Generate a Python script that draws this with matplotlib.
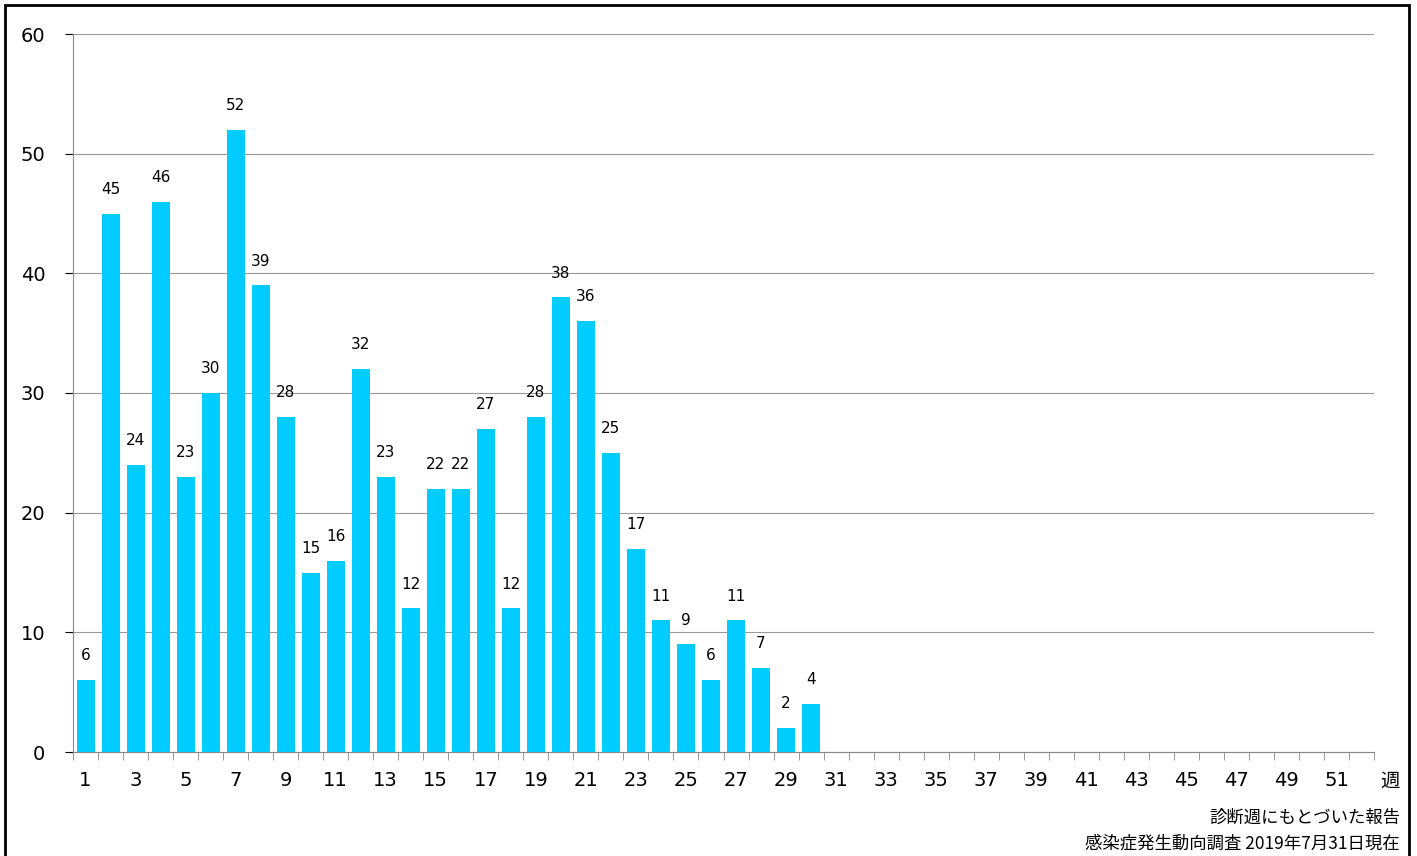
import matplotlib
matplotlib.use("Agg")
import matplotlib.pyplot as plt
from matplotlib.patches import Rectangle
import numpy as np

weeks = list(range(1, 53))
counts = [6,45,24,46,23,30,52,39,28,15,16,32,23,12,22,22,27,12,28,38,36,25,17,11,9,6,11,7,2,4]
yticks = [0,10,20,30,40,50,60]
note1 = "診断週にもとづいた報告"
note2 = "感染症発生動向調査 2019年7月31日現在"

plt.rcParams['font.family'] = ['DejaVu Sans', 'Noto Sans CJK JP']
fig = plt.figure(figsize=(14.17, 8.56), dpi=100)
ax = fig.add_axes([73/1417, 1-752/856, (1374-73)/1417, (752-34)/856])
x = np.arange(1, len(counts)+1)
ax.bar(x, counts, width=0.72, color='#00CCFF', zorder=3)
for xi, v in zip(x, counts):
    ax.text(xi, v + 1.4, str(v), ha='center', va='bottom', fontsize=11)
ax.set_xlim(0.5, 52.5)
ax.set_ylim(0, 60)
ax.set_yticks(yticks)
ax.tick_params(axis='y', length=6, labelsize=14, pad=14)
ax.yaxis.grid(True, color='#999999', linewidth=0.8, zorder=0)
ax.set_xticks(weeks[::2])
ax.set_xticklabels([str(w) for w in weeks[::2]], fontsize=14)
ax.set_xticks(np.arange(0.5, 53, 1), minor=True)
ax.tick_params(axis='x', which='major', length=0, pad=14)
ax.tick_params(axis='x', which='minor', length=6, color='#888888')
for s in ['top', 'right']:
    ax.spines[s].set_visible(False)
ax.spines['left'].set_color('#888888')
ax.spines['bottom'].set_color('#888888')
fig.text(1390/1417, 1-781/856, "週", fontsize=14, ha='center', va='center', family=['Noto Sans CJK JP'])
fig.text(1400/1417, 1-818/856, note1, fontsize=12.5, ha='right', va='center', family=['Noto Sans CJK JP'])
fig.text(1400/1417, 1-844/856, note2, fontsize=12.5, ha='right', va='center', family=['Noto Sans CJK JP', 'DejaVu Sans'])
fig.patches.append(Rectangle((5/1417, -0.01), 1404/1417, 1-5/856+0.01, transform=fig.transFigure,
                             fill=False, edgecolor='black', linewidth=2))
fig.savefig('out.png', dpi=100)
